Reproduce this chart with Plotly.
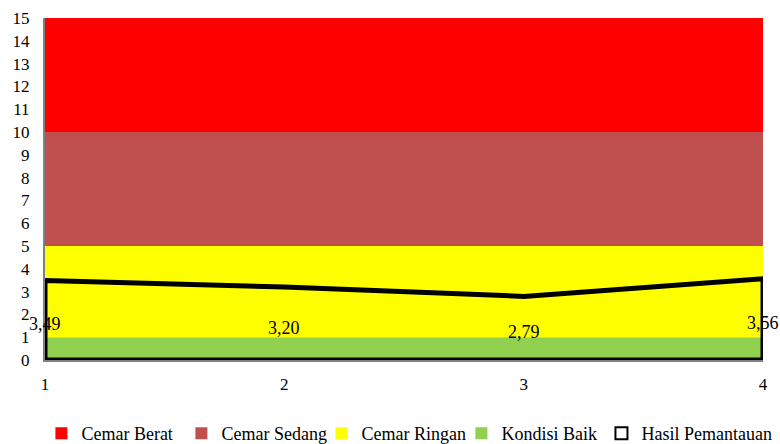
import plotly.graph_objects as go

# Sampling points and measured values
stations = [1, 2, 3, 4]
hasil_pemantauan = [3.49, 3.20, 2.79, 3.56]

# Class bands (thickness of each stacked band), listed bottom to top
band_names = ["Kondisi Baik", "Cemar Ringan", "Cemar Sedang", "Cemar Berat"]
band_sizes = [1, 4, 5, 5]
band_colors = ["#92D050", "#FFFF00", "#C0504D", "#FF0000"]
band_ranks = [4, 3, 2, 1]

y_ticks = list(range(0, 16))

fig = go.Figure()

for name, size, color in zip(band_names, band_sizes, band_colors):
    fig.add_trace(go.Scatter(
        x=stations, y=[size] * len(stations), name=name,
        stackgroup="bands", mode="lines", showlegend=False,
        line=dict(width=0, color=color), fillcolor=color,
    ))

# Outline of the monitoring result area
outline_x = [stations[0]] + stations + [stations[-1], stations[0]]
outline_y = [0] + hasil_pemantauan + [0, 0]
fig.add_trace(go.Scatter(
    x=outline_x, y=outline_y, name="Hasil Pemantauan", mode="lines",
    line=dict(color="black", width=5), cliponaxis=False, showlegend=False,
))

# Square legend keys
for name, color, rank in zip(band_names, band_colors, band_ranks):
    fig.add_trace(go.Scatter(
        x=[None], y=[None], name=name, mode="markers",
        marker=dict(symbol="square", size=13, color=color,
                    line=dict(width=0)),
        legendrank=rank,
    ))
fig.add_trace(go.Scatter(
    x=[None], y=[None], name="Hasil Pemantauan", mode="markers",
    marker=dict(symbol="square", size=10, color="white",
                line=dict(width=5, color="black")),
    legend="legend2",
))

for xv, yv in zip(stations, hasil_pemantauan):
    fig.add_annotation(
        x=xv, y=yv / 2, text=f"{yv:.2f}".replace(".", ","),
        showarrow=False, yshift=-4,
        font=dict(family="Liberation Serif", size=18, color="black"),
    )

legend_common = dict(
    orientation="h", xanchor="left", y=-0.215, yanchor="middle",
    font=dict(size=18), tracegroupgap=0, itemsizing="constant",
    bgcolor="rgba(0,0,0,0)",
)

fig.update_layout(
    width=780, height=444,
    margin=dict(l=45, r=17, t=18, b=84, autoexpand=False),
    paper_bgcolor="white", plot_bgcolor="white",
    font=dict(family="Liberation Serif", size=17, color="black"),
    showlegend=True,
    legend=dict(x=-0.005, traceorder="normal",
                entrywidth=95, entrywidthmode="pixels", **legend_common),
    legend2=dict(x=0.775, **legend_common),
    xaxis=dict(
        range=[1, 4], tickvals=stations, showgrid=False, zeroline=False,
        showline=True, linecolor="#808080", linewidth=2,
        ticks="", ticklabelstandoff=8,
    ),
    yaxis=dict(
        range=[0, 15], tickvals=y_ticks, showgrid=False, zeroline=False,
        showline=True, linecolor="#808080", linewidth=2, ticks="",
        ticklabelstandoff=10,
    ),
)

fig.write_html("out.html")
